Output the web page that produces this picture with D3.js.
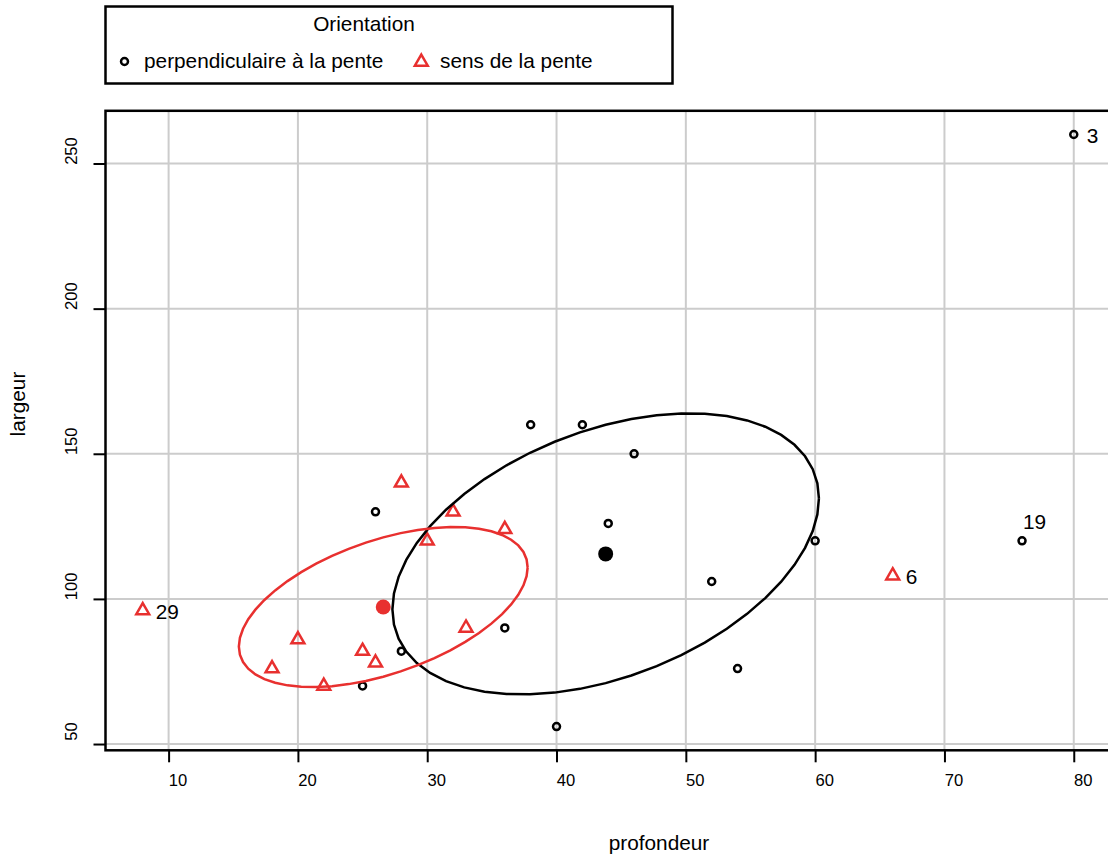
<!DOCTYPE html>
<html>
<head>
<meta charset="utf-8">
<script src="https://cdn.jsdelivr.net/npm/d3@7"></script>
<style>
	body { margin: 0; background: #fff; }
	svg text { font-family: 'Liberation Sans', Arial, sans-serif; fill: #000; }
	.grid line { stroke: #cccccc; stroke-width: 2; }
	.tick-mark { stroke: #000; stroke-width: 2; }
</style>
</head>
<body>
<svg id="viz" width="1108" height="860"></svg>
<script>

// perpendiculaire a la pente (black circles)
var perpX = [ 80, 38, 42, 46, 44, 26, 60, 76, 52, 36, 28, 25, 54, 40 ];
var perpY = [ 260, 160, 160, 150, 126, 130, 120, 120, 106, 90, 82, 70, 76, 56 ];
var perpId = [ '3', '', '', '', '', '', '', '19', '', '', '', '', '', '' ];

// sens de la pente (red triangles)
var sensX = [ 8, 28, 32, 30, 36, 20, 25, 26, 18, 22, 33, 66 ];
var sensY = [ 96, 140, 130, 120, 124, 86, 82, 78, 76, 70, 90, 108 ];
var sensId = [ '29', '', '', '', '', '', '', '', '', '', '', '6' ];

// group centres and ellipse shape (var x, cov xy, var y)
var groupNames = [ 'perpendiculaire à la pente', 'sens de la pente' ];
var centreX = [ 43.8, 26.6 ];
var centreY = [ 115.5, 97.2 ];
var shapeXX = [ 272, 124.7 ];
var shapeXY = [ 315, 152 ];
var shapeYY = [ 2346, 761 ];

var xTicks = [ 10, 20, 30, 40, 50, 60, 70, 80 ];
var yTicks = [ 50, 100, 150, 200, 250 ];
var xDomain = [ 5.12, 82.88 ];
var yDomain = [ 47.84, 268.16 ];

var RED = '#e8302f';
var FONT = "'Liberation Sans', Arial, sans-serif";

var plot = { left: 105.5, right: 1111, top: 110.8, bottom: 750.3 };

var svg = d3.select( '#viz' );

var x = d3.scaleLinear().domain( xDomain ).range( [ plot.left, plot.right ] );
var y = d3.scaleLinear().domain( yDomain ).range( [ plot.bottom, plot.top ] );

// grid
var grid = svg.append( 'g' ).classed( 'grid', true );
grid.selectAll( 'line.v' )
	.data( xTicks )
	.enter()
	.append( 'line' )
	.attr( 'x1', function ( d ) { return x( d ); } )
	.attr( 'x2', function ( d ) { return x( d ); } )
	.attr( 'y1', plot.top )
	.attr( 'y2', plot.bottom );
grid.selectAll( 'line.h' )
	.data( yTicks )
	.enter()
	.append( 'line' )
	.attr( 'x1', plot.left )
	.attr( 'x2', plot.right )
	.attr( 'y1', function ( d ) { return y( d ); } )
	.attr( 'y2', function ( d ) { return y( d ); } );

// axes
var xAxis = d3.axisBottom( x ).tickValues( xTicks ).tickSize( 12 ).tickSizeOuter( 0 );
var gx = svg.append( 'g' )
	.attr( 'transform', 'translate(0,' + plot.bottom + ')' )
	.call( xAxis );
gx.select( '.domain' ).remove();
gx.selectAll( '.tick line' ).classed( 'tick-mark', true );
gx.selectAll( '.tick text' )
	.attr( 'x', 9 )
	.attr( 'y', 36 )
	.attr( 'dy', 0 )
	.style( 'font-size', '16.6px' )
	.style( 'font-family', FONT );

var yAxis = d3.axisLeft( y ).tickValues( yTicks ).tickSize( 12 ).tickSizeOuter( 0 );
var gy = svg.append( 'g' )
	.attr( 'transform', 'translate(' + plot.left + ',0)' )
	.call( yAxis );
gy.select( '.domain' ).remove();
gy.selectAll( '.tick line' ).classed( 'tick-mark', true );
gy.selectAll( '.tick text' )
	.attr( 'x', 0 )
	.attr( 'dy', 0 )
	.attr( 'text-anchor', 'middle' )
	.attr( 'transform', 'translate(-29,-13) rotate(-90)' )
	.style( 'font-size', '16.6px' )
	.style( 'font-family', FONT );

svg.append( 'rect' )
	.attr( 'x', plot.left )
	.attr( 'y', plot.top )
	.attr( 'width', plot.right - plot.left )
	.attr( 'height', plot.bottom - plot.top )
	.style( 'fill', 'none' )
	.style( 'stroke', '#000' )
	.style( 'stroke-width', 2.5 );

// axis titles
svg.append( 'text' )
	.attr( 'x', 659 )
	.attr( 'y', 850 )
	.attr( 'text-anchor', 'middle' )
	.style( 'font-size', '20.8px' )
	.text( 'profondeur' );

svg.append( 'text' )
	.attr( 'transform', 'translate(25,404) rotate(-90)' )
	.attr( 'text-anchor', 'middle' )
	.style( 'font-size', '20.8px' )
	.text( 'largeur' );

// ellipses
var ellipsePoints = function ( g ) {
	var a = Math.sqrt( shapeXX[g] );
	var b = shapeXY[g] / a;
	var c = Math.sqrt( shapeYY[g] - b * b );
	var pts = [];
	for ( var i = 0; i <= 52; i++ ) {
		var t = i / 52 * 2 * Math.PI;
		pts.push( [ centreX[g] + a * Math.cos( t ), centreY[g] + b * Math.cos( t ) + c * Math.sin( t ) ] );
	}
	return pts;
};

var line = d3.line()
	.x( function ( d ) { return x( d[0] ); } )
	.y( function ( d ) { return y( d[1] ); } );

var groupColor = [ '#000', RED ];

// points
var perp = perpX.map( function ( v, i ) { return { x: v, y: perpY[i], id: perpId[i] }; } );
var sens = sensX.map( function ( v, i ) { return { x: v, y: sensY[i], id: sensId[i] }; } );

svg.append( 'g' ).selectAll( 'circle' )
	.data( perp )
	.enter()
	.append( 'circle' )
	.attr( 'cx', function ( d ) { return x( d.x ); } )
	.attr( 'cy', function ( d ) { return y( d.y ); } )
	.attr( 'r', 3.5 )
	.style( 'fill', 'none' )
	.style( 'stroke', '#000' )
	.style( 'stroke-width', 2.5 );

var tri = d3.symbol().type( d3.symbolTriangle ).size( 72 );
svg.append( 'g' ).selectAll( 'path' )
	.data( sens )
	.enter()
	.append( 'path' )
	.attr( 'd', tri )
	.attr( 'transform', function ( d ) { return 'translate(' + x( d.x ) + ',' + y( d.y ) + ')'; } )
	.style( 'fill', 'none' )
	.style( 'stroke', RED )
	.style( 'stroke-width', 2.5 );

[ 0, 1 ].forEach( function ( g ) {
	svg.append( 'path' )
		.datum( ellipsePoints( g ) )
		.attr( 'd', line )
		.style( 'fill', 'none' )
		.style( 'stroke', groupColor[g] )
		.style( 'stroke-width', 2.5 );
	svg.append( 'circle' )
		.attr( 'cx', x( centreX[g] ) )
		.attr( 'cy', y( centreY[g] ) )
		.attr( 'r', 7.5 )
		.style( 'fill', groupColor[g] );
} );

// point labels
var labelled = perp.concat( sens ).filter( function ( d ) { return d.id !== ''; } );
svg.append( 'g' ).selectAll( 'text' )
	.data( labelled )
	.enter()
	.append( 'text' )
	.attr( 'x', function ( d ) { return x( d.x ) + ( d.id === '19' ? 1 : 13 ); } )
	.attr( 'y', function ( d ) { return y( d.y ) + ( d.id === '19' ? -11.5 : 8.5 ); } )
	.style( 'font-size', '20.8px' )
	.text( function ( d ) { return d.id; } );

// legend
var legend = svg.append( 'g' );
legend.append( 'rect' )
	.attr( 'x', 105.5 )
	.attr( 'y', 6.5 )
	.attr( 'width', 567 )
	.attr( 'height', 77 )
	.style( 'fill', '#fff' )
	.style( 'stroke', '#000' )
	.style( 'stroke-width', 2.5 );
legend.append( 'text' )
	.attr( 'x', 364 )
	.attr( 'y', 31 )
	.attr( 'text-anchor', 'middle' )
	.style( 'font-size', '20.8px' )
	.text( 'Orientation' );
legend.append( 'circle' )
	.attr( 'cx', 124.5 )
	.attr( 'cy', 61.5 )
	.attr( 'r', 3.5 )
	.style( 'fill', 'none' )
	.style( 'stroke', '#000' )
	.style( 'stroke-width', 2.5 );
legend.append( 'text' )
	.attr( 'x', 144 )
	.attr( 'y', 68 )
	.style( 'font-size', '20.8px' )
	.text( groupNames[0] );
legend.append( 'path' )
	.attr( 'd', tri )
	.attr( 'transform', 'translate(421.3,62)' )
	.style( 'fill', 'none' )
	.style( 'stroke', RED )
	.style( 'stroke-width', 2.5 );
legend.append( 'text' )
	.attr( 'x', 440 )
	.attr( 'y', 68 )
	.style( 'font-size', '20.8px' )
	.text( groupNames[1] );

</script>
</body>
</html>
